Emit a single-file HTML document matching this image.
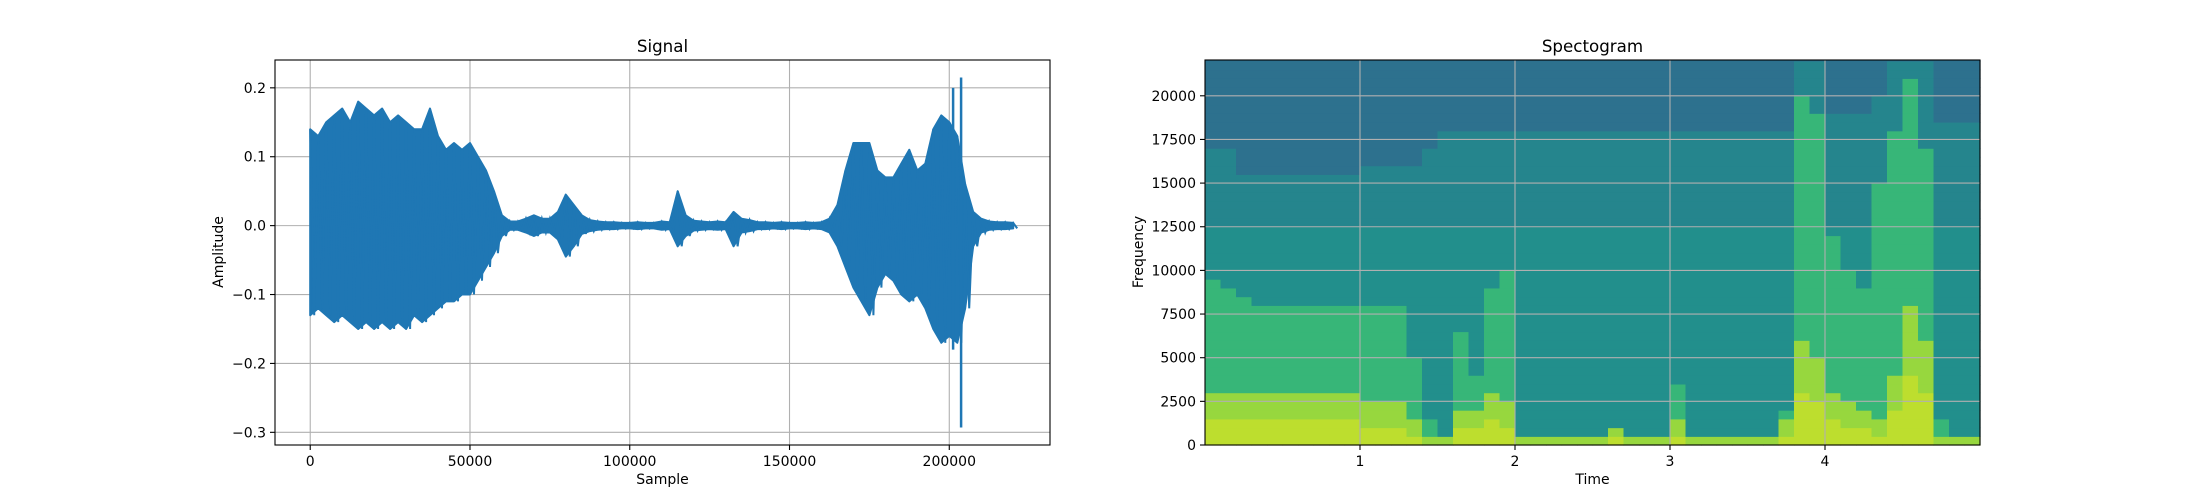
<!DOCTYPE html>
<html><head><meta charset="utf-8"><style>
html,body{margin:0;padding:0;background:#fff;}
svg{display:block;font-family:"DejaVu Sans","Liberation Sans",sans-serif;}
</style></head><body>
<svg id="fig" width="2200" height="500" viewBox="0 0 2200 500" xmlns="http://www.w3.org/2000/svg"></svg>
<script>
// ---- Signal data (envelope every 2500 samples) ----
const sigStep = 2500;
const sigUpper = [.14,.13,.15,.16,.17,.15,.18,.17,.16,.17,.15,
.16,.15,.14,.14,.17,.13,.11,.12,.11,.12,.10,.08,.05,.015,
.006,.006,.01,.015,.01,.01,.02,.045,.03,.015,.008,.006,.005,.005,.004,.004,
.005,.004,.004,.006,.005,.05,.015,.007,.006,.005,.006,.005,.02,.01,.008,.005,
.005,.004,.005,.004,.004,.005,.004,.005,.01,.03,
.08,.12,.12,.12,.08,.07,.07,.09,.11,.08,.09,.14,.16,.15,
.13,.06,.02,.01,.006,.005,.005,.004];
const sigLower = [-.13,-.12,-.13,-.14,-.13,-.14,-.15,-.14,-.15,-.14,-.15,
-.14,-.15,-.13,-.14,-.13,-.12,-.11,-.11,-.10,-.10,-.08,-.06,-.04,-.015,
-.006,-.006,-.01,-.015,-.01,-.01,-.02,-.045,-.03,-.012,-.008,-.006,-.005,-.005,-.004,-.004,
-.005,-.004,-.004,-.006,-.005,-.03,-.015,-.007,-.006,-.005,-.006,-.005,-.03,-.01,-.008,-.005,
-.005,-.004,-.005,-.004,-.004,-.005,-.004,-.005,-.01,-.03,
-.06,-.09,-.11,-.13,-.09,-.07,-.08,-.10,-.11,-.10,-.12,-.15,-.17,-.16,
-.17,-.12,-.03,-.01,-.006,-.005,-.005,-.004];
const spikeSample = [201200,203700];
const spikeHigh = [0.20,0.215];
const spikeLow = [-0.18,-0.293];
const sigXTicks = [0,50000,100000,150000,200000];
const sigYTicks = [-0.3,-0.2,-0.1,0.0,0.1,0.2];
const sigYTickLabels = ["\u22120.3","\u22120.2","\u22120.1","0.0","0.1","0.2"];

// ---- Spectrogram data (per 0.1 s column) ----
const specColStep = 0.1;
const specLo  = [2800,2800,2800,2800,2800,2800,2800,2800,2800,2800,2500,2500,2500,1500,500,300,2000,2000,3000,2500,
300,300,300,300,300,300,1000,300,300,300,1500,300,300,300,300,300,300,1500,6000,5000,
3000,2500,2000,1500,4000,8000,6000,300,300,300];
const specHi  = [9500,9000,8500,8000,8000,8000,8000,8000,8000,8000,8000,8000,8000,5000,1500,500,6500,4000,9000,10000,
500,400,400,400,400,400,1000,400,400,400,3500,400,400,400,400,400,400,2000,20000,19000,
12000,10000,9000,15000,18000,21000,17000,1500,500,500];
const specTop = [17000,17000,15500,15500,15500,15500,15500,15500,15500,15500,16000,16000,16000,16000,17000,18000,18000,18000,18000,18000,
18000,18000,18000,18000,18000,18000,18000,18000,18000,18000,18000,18000,18000,18000,18000,18000,18000,18000,22050,22050,
19000,19000,19000,20000,22050,22050,22050,18500,18500,18500];
const specXTicks = [1,2,3,4];
const specYTicks = [0,2500,5000,7500,10000,12500,15000,17500,20000];

const NS="http://www.w3.org/2000/svg";
const svg=document.getElementById('fig');
function mk(tag,attrs,parent){const e=document.createElementNS(NS,tag);for(const k in attrs)e.setAttribute(k,attrs[k]);(parent||svg).appendChild(e);return e;}
function txt(s,attrs,parent){const e=mk('text',attrs,parent);e.textContent=s;return e;}

// ---------- Signal axes ----------
const L={x0:275,x1:1050,y0:60,y1:445,xmin:-11025,xmax:231525,ymin:-0.3184,ymax:0.2404};
const sx=v=>L.x0+(v-L.xmin)/(L.xmax-L.xmin)*(L.x1-L.x0);
const sy=v=>L.y1-(v-L.ymin)/(L.ymax-L.ymin)*(L.y1-L.y0);
const gL=mk('g',{});


sigXTicks.forEach(t=>{const l=mk('line',{x1:sx(t),x2:sx(t),y1:L.y0,y2:L.y1,stroke:'#b0b0b0','stroke-width':1.1},gL);
});
sigYTicks.forEach(t=>{const l=mk('line',{x1:L.x0,x2:L.x1,y1:sy(t),y2:sy(t),stroke:'#b0b0b0','stroke-width':1.1},gL);
});
let up=[],lo=[],zz=[];
sigUpper.forEach((v,i)=>{up.push(sx(i*sigStep).toFixed(1)+','+sy(v).toFixed(1));});
for(let i=sigLower.length-1;i>=0;i--){lo.push(sx(i*sigStep).toFixed(1)+','+sy(sigLower[i]).toFixed(1));}
sigUpper.forEach((v,i)=>{zz.push(sx(i*sigStep).toFixed(1)+','+sy(v).toFixed(1));zz.push(sx(i*sigStep+sigStep/2).toFixed(1)+','+sy(sigLower[i]).toFixed(1));});
const wf=mk('polygon',{points:up.concat(lo).join(' '),fill:'#1f77b4',stroke:'#1f77b4','stroke-width':2,'stroke-linejoin':'round'},gL);


const wz=mk('polyline',{points:zz.join(' '),fill:'none',stroke:'#1f77b4','stroke-width':2},gL);


spikeSample.forEach((s,i)=>{
  const sp=mk('line',{x1:sx(s),x2:sx(s),y1:sy(spikeHigh[i]),y2:sy(spikeLow[i]),stroke:'#1f77b4','stroke-width':2.5},gL);
  
  
});
const fL=mk('rect',{x:L.x0,y:L.y0,width:L.x1-L.x0,height:L.y1-L.y0,fill:'none',stroke:'#000','stroke-width':1.1},gL);

sigXTicks.forEach(t=>{mk('line',{x1:sx(t),x2:sx(t),y1:L.y1,y2:L.y1+5,stroke:'#000','stroke-width':1.1},gL);
const e=txt(String(t),{x:sx(t),y:L.y1+21,'font-size':14,'text-anchor':'middle',fill:'#000'},gL);
});
sigYTicks.forEach((t,i)=>{mk('line',{x1:L.x0-5,x2:L.x0,y1:sy(t),y2:sy(t),stroke:'#000','stroke-width':1.1},gL);
const e=txt(sigYTickLabels[i],{x:L.x0-9,y:sy(t)+5,'font-size':14,'text-anchor':'end',fill:'#000'},gL);
});
const tL=txt('Signal',{x:(L.x0+L.x1)/2,y:52,'font-size':16.7,'text-anchor':'middle'},gL);

const xl=txt('Sample',{x:(L.x0+L.x1)/2,y:484,'font-size':14,'text-anchor':'middle'},gL);

const yl=txt('Amplitude',{x:0,y:0,'font-size':14,'text-anchor':'middle',transform:'translate(223,252) rotate(-90)'},gL);


// ---------- Spectrogram ----------
const R={x0:1205,x1:1980,y0:60,y1:445,xmin:0,xmax:5.0,ymin:0,ymax:22050};
const rx=v=>R.x0+(v-R.xmin)/(R.xmax-R.xmin)*(R.x1-R.x0);
const ry=v=>R.y1-(v-R.ymin)/(R.ymax-R.ymin)*(R.y1-R.y0);
const vir=['#440154','#472d7b','#3b528b','#2c728e','#21918c','#28ae80','#5ec962','#addc30','#fde725'];
function hex(c){return [parseInt(c.slice(1,3),16),parseInt(c.slice(3,5),16),parseInt(c.slice(5,7),16)];}
function cmap(v){v=Math.max(0,Math.min(1,v));const p=v*8,i=Math.min(7,Math.floor(p)),f=p-i;const a=hex(vir[i]),b=hex(vir[i+1]);
return 'rgb('+a.map((x,k)=>Math.round(x+(b[k]-x)*f)).join(',')+')';}
const gR=mk('g',{});


const fStep=500;
specLo.forEach((lov,c)=>{
  for(let f=0;f<R.ymax;f+=fStep){
    const fc=f+fStep/2;
    let v;
    if(fc>specTop[c]) v=0.37;
    else if(fc>12500) v=0.45;
    else v=0.49;
    if(fc<specHi[c]) v=0.66;
    if(fc<lov) v=0.84;
    if(fc<lov*0.5) v=0.9;
    const y2=ry(f), y1=ry(Math.min(f+fStep,R.ymax));
    const r=mk('rect',{x:rx(c*specColStep).toFixed(2),y:y1.toFixed(2),width:(rx((c+1)*specColStep)-rx(c*specColStep)+0.6).toFixed(2),height:(y2-y1+0.6).toFixed(2),fill:cmap(v)},gR);
    
    
  }
});
specXTicks.forEach(t=>{const l=mk('line',{x1:rx(t),x2:rx(t),y1:R.y0,y2:R.y1,stroke:'#b0b0b0','stroke-width':1.1},gR);

mk('line',{x1:rx(t),x2:rx(t),y1:R.y1,y2:R.y1+5,stroke:'#000','stroke-width':1.1},gR);
const e=txt(String(t),{x:rx(t),y:R.y1+21,'font-size':14,'text-anchor':'middle'},gR);
});
specYTicks.forEach(t=>{const l=mk('line',{x1:R.x0,x2:R.x1,y1:ry(t),y2:ry(t),stroke:'#b0b0b0','stroke-width':1.1},gR);

mk('line',{x1:R.x0-5,x2:R.x0,y1:ry(t),y2:ry(t),stroke:'#000','stroke-width':1.1},gR);
const e=txt(String(t),{x:R.x0-9,y:ry(t)+5,'font-size':14,'text-anchor':'end'},gR);
});
const fR=mk('rect',{x:R.x0,y:R.y0,width:R.x1-R.x0,height:R.y1-R.y0,fill:'none',stroke:'#000','stroke-width':1.1},gR);

const tR=txt('Spectogram',{x:(R.x0+R.x1)/2,y:52,'font-size':16.7,'text-anchor':'middle'},gR);

const xr=txt('Time',{x:(R.x0+R.x1)/2,y:484,'font-size':14,'text-anchor':'middle'},gR);

const yr=txt('Frequency',{x:0,y:0,'font-size':14,'text-anchor':'middle',transform:'translate(1143,252) rotate(-90)'},gR);

</script>
</body></html>
